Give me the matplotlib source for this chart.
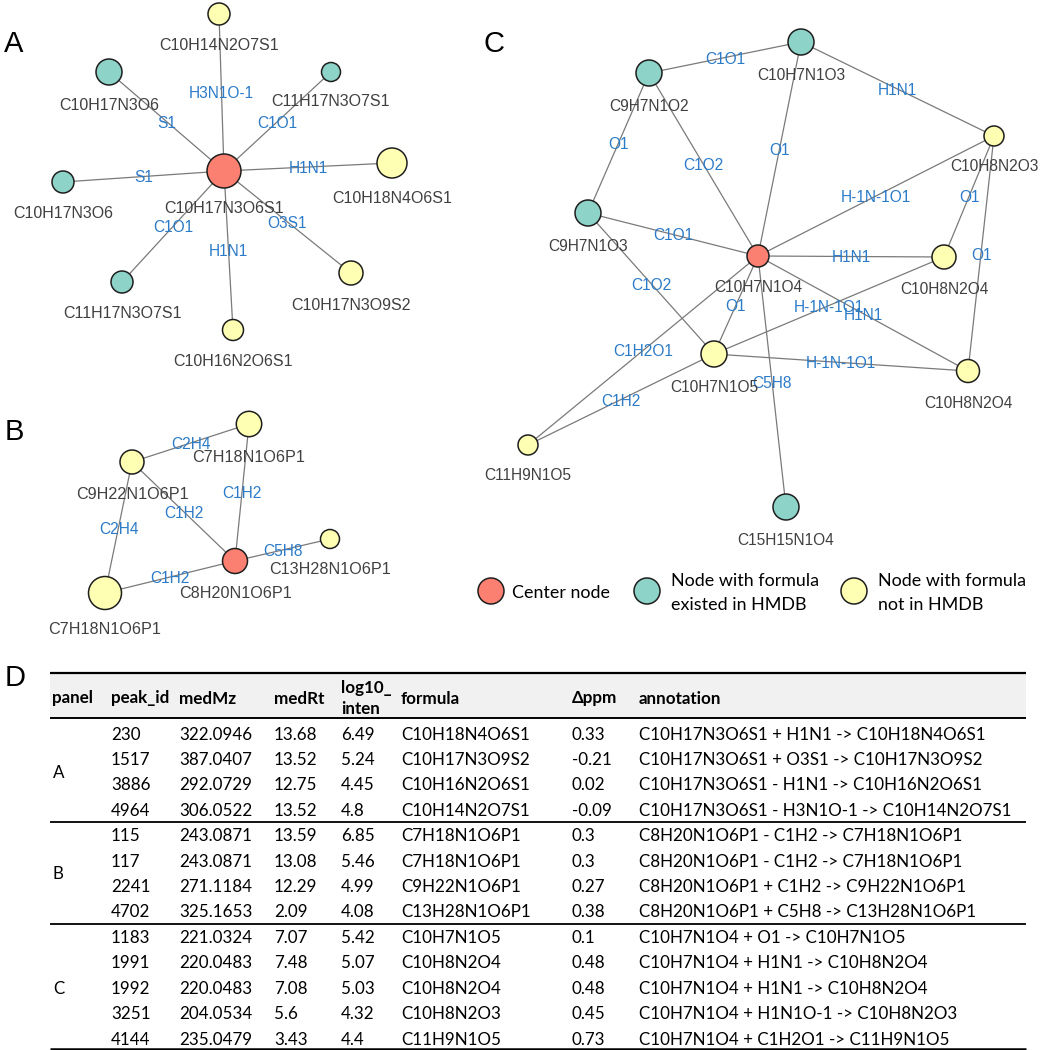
import matplotlib
matplotlib.use("Agg")
import matplotlib.pyplot as plt

# ---------------- data ----------------
# Panel A network
A_names = ["C10H17N3O6S1", "C10H14N2O7S1", "C10H17N3O6", "C11H17N3O7S1", "C10H18N4O6S1",
           "C10H17N3O6", "C11H17N3O7S1", "C10H17N3O9S2", "C10H16N2O6S1"]
A_types = ["center", "novel", "hmdb", "hmdb", "novel", "hmdb", "hmdb", "novel", "novel"]
A_edges = [(0, 1, "H3N1O-1"), (0, 2, "S1"), (0, 3, "C1O1"), (0, 4, "H1N1"),
           (0, 5, "S1"), (0, 6, "C1O1"), (0, 7, "O3S1"), (0, 8, "H1N1")]

# Panel B network
B_names = ["C8H20N1O6P1", "C7H18N1O6P1", "C9H22N1O6P1", "C13H28N1O6P1", "C7H18N1O6P1"]
B_types = ["center", "novel", "novel", "novel", "novel"]
B_edges = [(2, 1, "C2H4"), (1, 0, "C1H2"), (2, 0, "C1H2"), (2, 4, "C2H4"),
           (0, 3, "C5H8"), (0, 4, "C1H2")]

# Panel C network
C_names = ["C10H7N1O4", "C9H7N1O2", "C10H7N1O3", "C10H8N2O3", "C9H7N1O3", "C10H8N2O4",
           "C10H7N1O5", "C10H8N2O4", "C11H9N1O5", "C15H15N1O4"]
C_types = ["center", "hmdb", "hmdb", "novel", "hmdb", "novel", "novel", "novel", "novel", "hmdb"]
C_edges = [(1, 2, "C1O1"), (2, 3, "H1N1"), (1, 4, "O1"), (1, 0, "C1O2"), (2, 0, "O1"),
           (0, 3, "H-1N-1O1"), (3, 5, "O1"), (3, 7, "O1"), (4, 0, "C1O1"), (0, 5, "H1N1"),
           (4, 6, "C1O2"), (0, 6, "O1"), (6, 5, "H-1N-1O1"), (0, 7, "H1N1"),
           (6, 7, "H-1N-1O1"), (0, 9, "C5H8"), (8, 0, "C1H2O1"), (8, 6, "C1H2")]

legend_labels = ["Center node", "Node with formula\nexisted in HMDB", "Node with formula\nnot in HMDB"]

# Table (panel D)
tbl_header = ["panel", "peak_id", "medMz", "medRt", "log10_\ninten", "formula", "Δppm", "annotation"]
tbl_groups = ["A", "B", "C"]
tbl_group_sizes = [4, 4, 5]
peak_id = [230, 1517, 3886, 4964, 115, 117, 2241, 4702, 1183, 1991, 1992, 3251, 4144]
medMz = ["322.0946", "387.0407", "292.0729", "306.0522", "243.0871", "243.0871", "271.1184",
         "325.1653", "221.0324", "220.0483", "220.0483", "204.0534", "235.0479"]
medRt = [13.68, 13.52, 12.75, 13.52, 13.59, 13.08, 12.29, 2.09, 7.07, 7.48, 7.08, 5.6, 3.43]
log10_inten = [6.49, 5.24, 4.45, 4.8, 6.85, 5.46, 4.99, 4.08, 5.42, 5.07, 5.03, 4.32, 4.4]
formula = ["C10H18N4O6S1", "C10H17N3O9S2", "C10H16N2O6S1", "C10H14N2O7S1",
           "C7H18N1O6P1", "C7H18N1O6P1", "C9H22N1O6P1", "C13H28N1O6P1",
           "C10H7N1O5", "C10H8N2O4", "C10H8N2O4", "C10H8N2O3", "C11H9N1O5"]
dppm = [0.33, -0.21, 0.02, -0.09, 0.3, 0.3, 0.27, 0.38, 0.1, 0.48, 0.48, 0.45, 0.73]
annotation = ["C10H17N3O6S1 + H1N1 -> C10H18N4O6S1",
              "C10H17N3O6S1 + O3S1 -> C10H17N3O9S2",
              "C10H17N3O6S1 - H1N1 -> C10H16N2O6S1",
              "C10H17N3O6S1 - H3N1O-1 -> C10H14N2O7S1",
              "C8H20N1O6P1 - C1H2 -> C7H18N1O6P1",
              "C8H20N1O6P1 - C1H2 -> C7H18N1O6P1",
              "C8H20N1O6P1 + C1H2 -> C9H22N1O6P1",
              "C8H20N1O6P1 + C5H8 -> C13H28N1O6P1",
              "C10H7N1O4 + O1 -> C10H7N1O5",
              "C10H7N1O4 + H1N1 -> C10H8N2O4",
              "C10H7N1O4 + H1N1 -> C10H8N2O4",
              "C10H7N1O4 + H1N1O-1 -> C10H8N2O3",
              "C10H7N1O4 + C1H2O1 -> C11H9N1O5"]

# ---------------- layout (pixel canvas) ----------------
A_x = [224, 219, 109, 331, 392, 63, 122, 351, 233]
A_y = [171, 14, 72, 72, 163, 182, 282, 273, 330]
A_r = [17, 11, 13, 9.5, 15, 11, 11, 12, 10.5]

B_x = [235, 249, 132, 330, 105]
B_y = [561, 424, 462, 539, 593]
B_r = [12.5, 12.7, 12, 9.5, 16.5]

C_x = [758, 649, 801, 994, 588, 944, 714, 968, 528, 786]
C_y = [256, 73, 42, 136, 213, 257, 354, 371, 445, 507]
C_r = [11, 13, 13, 10, 13, 12, 13, 11.5, 10, 13]

COLORS = {"center": "#FB8072", "hmdb": "#8DD3C7", "novel": "#FFFFB3"}
EDGE_COL = "#7a7a7a"
ELAB_COL = "#2B7BC8"
NLAB_COL = "#404040"
ARIAL = ["Liberation Sans", "DejaVu Sans"]
CALI = ["Lato", "DejaVu Sans"]
DY = 1.5  # visual centering nudge for va='center'

W, H = 1045, 1050
fig = plt.figure(figsize=(W / 100, H / 100), dpi=100)
ax = fig.add_axes([0, 0, 1, 1])
ax.set_xlim(0, W)
ax.set_ylim(H, 0)
ax.axis("off")
renderer = fig.canvas.get_renderer()


def fit_size(text, family, target_w, weight="normal"):
    t = ax.text(0, 0, text, fontsize=10, family=family, fontweight=weight)
    w = t.get_window_extent(renderer).width
    t.remove()
    return 10 * target_w / w


def r_to_s(r):
    return (2 * r * 0.72) ** 2


def draw_net(names, types, edges, xs, ys, rs, nfs, efs):
    for i, j, lab in edges:
        ax.plot([xs[i], xs[j]], [ys[i], ys[j]], color=EDGE_COL, lw=0.9, zorder=1,
                solid_capstyle="butt")
        ax.text((xs[i] + xs[j]) / 2, (ys[i] + ys[j]) / 2 + DY, lab, color=ELAB_COL,
                fontsize=efs, family=ARIAL, ha="center", va="center", zorder=4)
    ax.scatter(xs, ys, s=[r_to_s(r) for r in rs], c=[COLORS[t] for t in types],
               edgecolors="#1e1e1e", linewidths=1.1, zorder=3)
    for n, x, y, r in zip(names, xs, ys, rs):
        ax.text(x, y + r + 19 + DY, n, color=NLAB_COL, fontsize=nfs, family=ARIAL,
                ha="center", va="center", zorder=4)


draw_net(A_names, A_types, A_edges, A_x, A_y, A_r, 11.5, 11.2)
draw_net(B_names, B_types, B_edges, B_x, B_y, B_r, 11.6, 11.2)
draw_net(C_names, C_types, C_edges, C_x, C_y, C_r, 11.2, 11.2)

# panel letters
for letter, (x, y) in zip("ABCD", [(14, 42), (14, 430), (494, 42), (15, 677)]):
    ax.text(x, y + DY, letter, fontsize=21, family=ARIAL, ha="center", va="center", color="black")

# legend
leg_x = [491, 647, 854]
leg_tx = [512, 671, 878]
leg_types = ["center", "hmdb", "novel"]
leg_fs = fit_size("Center node", CALI, 98)
ax.scatter(leg_x, [591] * 3, s=r_to_s(13), c=[COLORS[t] for t in leg_types],
           edgecolors="#1e1e1e", linewidths=1.1, zorder=3)
for tx, lab in zip(leg_tx, legend_labels):
    lines = lab.split("\n")
    if len(lines) == 1:
        ax.text(tx, 591 + DY, lines[0], fontsize=leg_fs, family=CALI, ha="left",
                va="center", color="black")
    else:
        for ly, ln in zip([579, 603], lines):
            ax.text(tx, ly + DY, ln, fontsize=leg_fs, family=CALI, ha="left",
                    va="center", color="black")

# ---------------- table ----------------
col_x = [52, 111, 179, 274, 341, 401, 572, 639]
tbl_left, tbl_right = 50, 1026
top_y, head_line_y = 673, 718
row0, row_step = 733, 25.42
tfs = fit_size("C10H17N3O6S1 - H3N1O-1 -> C10H14N2O7S1", CALI, 373)

ax.fill_between([tbl_left, tbl_right], top_y, head_line_y, color="#f1f1f1", zorder=0, lw=0)
for k, h in enumerate(tbl_header):
    parts = h.split("\n")
    ys = [697] if len(parts) == 1 else [687, 708]
    for yy, p in zip(ys, parts):
        ax.text(col_x[k], yy + DY, p, fontsize=tfs, family=CALI, fontweight="bold",
                ha="left", va="center")

n_rows = len(peak_id)
row_y = [row0 + i * row_step for i in range(n_rows)]
for i in range(n_rows):
    vals = [str(peak_id[i]), medMz[i], str(medRt[i]), str(log10_inten[i]), formula[i],
            str(dppm[i]), annotation[i]]
    for k, v in enumerate(vals):
        ax.text(col_x[k + 1], row_y[i] + DY, v, fontsize=tfs, family=CALI, ha="left", va="center")

start = 0
sep_ys = []
for g, n in zip(tbl_groups, tbl_group_sizes):
    ax.text(col_x[0] + 1, (row_y[start] + row_y[start + n - 1]) / 2 + DY, g, fontsize=tfs,
            family=CALI, ha="left", va="center")
    start += n
    if start < n_rows:
        sep_ys.append((row_y[start - 1] + row_y[start]) / 2)

ax.hlines([top_y], tbl_left, tbl_right, color="black", lw=1.6)
ax.hlines([head_line_y], tbl_left, tbl_right, color="black", lw=1.4)
ax.hlines(sep_ys, tbl_left, tbl_right, color="black", lw=1.3)
ax.hlines([row_y[-1] + 10.5], tbl_left, tbl_right, color="black", lw=1.8)

fig.savefig("out.png", dpi=100, facecolor="white")
